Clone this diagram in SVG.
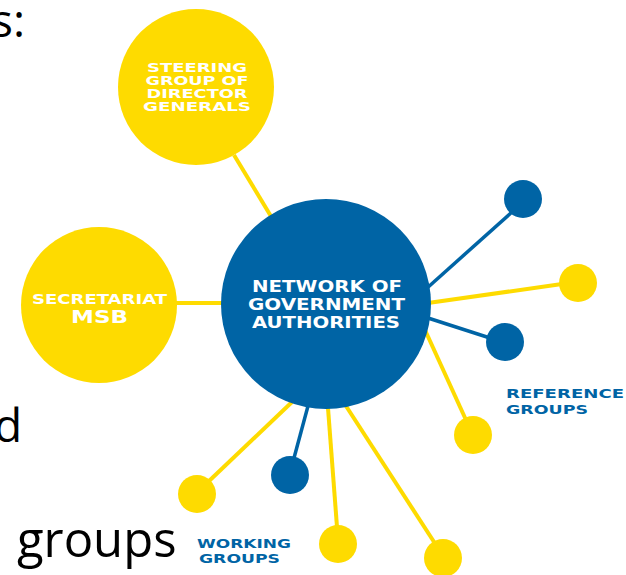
<svg xmlns="http://www.w3.org/2000/svg" width="626" height="575" viewBox="0 0 626 575">
<style>
.y{fill:#FEDB00}
.b{fill:#0064A5}
.ly{stroke:#FEDB00;stroke-width:4;fill:none}
.lb{stroke:#0064A5;stroke-width:3.5;fill:none}
.wt{fill:#FFFFFF;font-family:"DejaVu Sans",sans-serif;font-weight:bold;text-anchor:middle}
.bt{fill:#0064A5;font-family:"DejaVu Sans",sans-serif;font-weight:bold}
.bg{fill:#000000;font-family:"Open Sans",sans-serif}
</style>
<rect width="626" height="575" fill="#FFFFFF"/>
<g id="bg-text">
<text class="bg" x="-9" y="37" font-size="46">s:</text>
<text class="bg" x="-6" y="442" font-size="46">d</text>
<text class="bg" x="17" y="557" font-size="49">groups</text>
</g>
<g id="connectors">
<line class="ly" x1="234" y1="155" x2="272" y2="218"/>
<line class="ly" x1="176" y1="303" x2="224" y2="303"/>
<line class="lb" x1="426" y1="289" x2="512" y2="212"/>
<line class="ly" x1="428" y1="303" x2="562" y2="284"/>
<line class="lb" x1="428" y1="318" x2="490" y2="338"/>
<line class="ly" x1="425" y1="330" x2="466" y2="420"/>
<line class="ly" x1="292" y1="402" x2="208" y2="482"/>
<line class="lb" x1="308" y1="406" x2="294" y2="458"/>
<line class="ly" x1="328" y1="408" x2="337" y2="527"/>
<line class="ly" x1="346" y1="406" x2="436" y2="545"/>
</g>
<g id="steering">
<circle class="y" cx="196" cy="87" r="78"/>
<text class="wt" x="197" y="72" font-size="12" textLength="100" lengthAdjust="spacingAndGlyphs">STEERING</text>
<text class="wt" x="197" y="85" font-size="12" textLength="103" lengthAdjust="spacingAndGlyphs">GROUP OF</text>
<text class="wt" x="197" y="98" font-size="12" textLength="101" lengthAdjust="spacingAndGlyphs">DIRECTOR</text>
<text class="wt" x="197" y="111" font-size="12" textLength="108" lengthAdjust="spacingAndGlyphs">GENERALS</text>
</g>
<g id="secretariat">
<circle class="y" cx="99" cy="305" r="78"/>
<text class="wt" x="99.5" y="304" font-size="13.5" textLength="135" lengthAdjust="spacingAndGlyphs">SECRETARIAT</text>
<text class="wt" x="99.5" y="323" font-size="17" textLength="57" lengthAdjust="spacingAndGlyphs">MSB</text>
</g>
<g id="network">
<circle class="b" cx="326" cy="304" r="105"/>
<text class="wt" x="327" y="292" font-size="16.5" textLength="150" lengthAdjust="spacingAndGlyphs">NETWORK OF</text>
<text class="wt" x="326.5" y="310" font-size="16.5" textLength="157" lengthAdjust="spacingAndGlyphs">GOVERNMENT</text>
<text class="wt" x="326" y="328" font-size="16.5" textLength="148" lengthAdjust="spacingAndGlyphs">AUTHORITIES</text>
</g>
<g id="ref-1"><circle class="b" cx="523" cy="199" r="19"/></g>
<g id="ref-2"><circle class="y" cx="578" cy="283" r="19"/></g>
<g id="ref-3"><circle class="b" cx="505" cy="342" r="19"/></g>
<g id="ref-4"><circle class="y" cx="473" cy="435" r="19"/></g>
<g id="work-1"><circle class="y" cx="197" cy="494" r="19"/></g>
<g id="work-2"><circle class="b" cx="290" cy="475" r="19"/></g>
<g id="work-3"><circle class="y" cx="338" cy="544" r="19"/></g>
<g id="work-4"><circle class="y" cx="443" cy="558" r="19"/></g>
<g id="ref-label">
<text class="bt" x="506" y="398" font-size="13" textLength="118" lengthAdjust="spacingAndGlyphs">REFERENCE</text>
<text class="bt" x="506" y="414" font-size="13" textLength="82" lengthAdjust="spacingAndGlyphs">GROUPS</text>
</g>
<g id="work-label">
<text class="bt" x="197" y="548" font-size="12" textLength="94" lengthAdjust="spacingAndGlyphs">WORKING</text>
<text class="bt" x="199" y="563" font-size="12" textLength="81" lengthAdjust="spacingAndGlyphs">GROUPS</text>
</g>
</svg>
